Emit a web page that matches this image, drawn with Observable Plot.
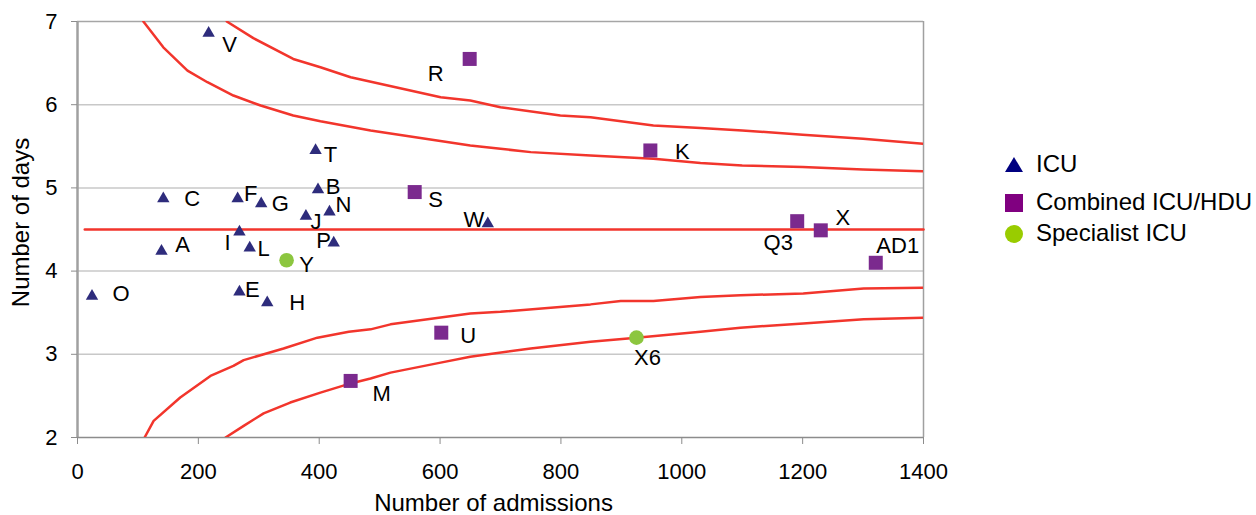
<!DOCTYPE html>
<html><head><meta charset="utf-8">
<script src="https://cdn.jsdelivr.net/npm/d3@7"></script>
<script src="https://cdn.jsdelivr.net/npm/@observablehq/plot@0.6"></script>
<style>
body{margin:0;background:#fff;font-family:"Liberation Sans",Arial,sans-serif;}
#wrap{position:relative;width:1256px;height:515px;overflow:hidden;}
.lg{position:absolute;font-size:24px;color:#000;line-height:1;white-space:nowrap;}
.lg svg{position:absolute;}
</style></head><body>
<div id="wrap"></div>
<script>
// ---- data ----
const icuNames      = ["V","C","F","G","A","I","L","J","T","B","N","P","W","O","E","H"];
const icuAdmissions = [217,142,265,304,139,268,285,378,394,398,417,424,679,24,268,314];
const icuDays       = [6.86,4.87,4.87,4.81,4.24,4.47,4.28,4.66,5.45,4.98,4.71,4.34,4.57,3.70,3.75,3.62];

const combNames      = ["R","K","S","U","M","Q3","X","AD1"];
const combAdmissions = [649,948,558,602,452,1191,1230,1321];
const combDays       = [6.55,5.45,4.95,3.26,2.68,4.60,4.49,4.10];

const specNames      = ["Y","X6"];
const specAdmissions = [346,925];
const specDays       = [4.13,3.20];

const meanDays = 4.5;
const meanAdmissions = [12,1400];

const upperOuterX = [247,291,357,402,452,601,650,700,799,849,953,1031,1100,1200,1300,1400];
const upperOuterY = [7.00,6.80,6.55,6.45,6.33,6.09,6.05,5.97,5.87,5.85,5.75,5.72,5.69,5.64,5.59,5.53];
const upperInnerX = [109,142,182,215,258,303,357,402,485,650,700,750,849,953,1031,1100,1200,1300,1400];
const upperInnerY = [7.00,6.69,6.41,6.27,6.11,5.99,5.87,5.80,5.69,5.51,5.47,5.43,5.39,5.35,5.30,5.27,5.25,5.22,5.20];
const lowerInnerX = [111,126,170,220,258,275,341,397,449,485,518,650,700,849,899,953,1031,1097,1201,1301,1400];
const lowerInnerY = [2.00,2.20,2.48,2.74,2.86,2.93,3.07,3.20,3.27,3.30,3.36,3.49,3.51,3.60,3.64,3.64,3.69,3.71,3.73,3.79,3.80];
const lowerOuterX = [245,275,308,352,402,452,485,518,601,650,750,849,925,1031,1097,1201,1301,1400];
const lowerOuterY = [2.00,2.14,2.29,2.42,2.54,2.65,2.71,2.78,2.90,2.97,3.07,3.15,3.20,3.27,3.32,3.37,3.42,3.44];

const xTicks = [0,200,400,600,800,1000,1200,1400];
const yTicks = [2,3,4,5,6,7];
const seriesNames = ["ICU","Combined ICU/HDU","Specialist ICU"];

// ---- layout (label offsets in px) ----
const labelOffset = {
  V:[21,12], C:[29,0], F:[13,-5], G:[19,0], J:[10,6], A:[21,-6], I:[-12,11], L:[14,1],
  T:[15,4], B:[15,-3], N:[14,-7], P:[-10,-2], W:[-14,-4], O:[29,-2], E:[13,-2], H:[30,0],
  R:[-34,15], K:[32,1], S:[21,8], U:[27,3], M:[31,13], Q3:[-19,22], X:[22,-12], AD1:[22,-17],
  Y:[20,5], X6:[11,20]
};

const zip = (n, a, d) => n.map((name, i) => ({name, adm: a[i], days: d[i]}));
const icu = zip(icuNames, icuAdmissions, icuDays);
const comb = zip(combNames, combAdmissions, combDays);
const spec = zip(specNames, specAdmissions, specDays);
const curve = (xs, ys) => xs.map((x, i) => ({adm: x, days: ys[i]}));

const red = "#f2352c";
const colIcu = "#2e2c7c", colComb = "#7b2a8e", colSpec = "#8cc63f";

const labelMarks = [...icu, ...comb, ...spec].map(d =>
  Plot.text([d], {x: "adm", y: "days", text: "name", dx: labelOffset[d.name][0], dy: labelOffset[d.name][1],
    fontSize: 22, fill: "#000", textAnchor: "middle"}));

const chart = Plot.plot({
  width: 1256, height: 515,
  marginLeft: 77, marginRight: 333, marginTop: 21, marginBottom: 78,
  x: {domain: [0, 1400]},
  y: {domain: [2, 7]},
  style: {fontFamily: "'Liberation Sans', Arial, sans-serif", background: "white", color: "#000"},
  marks: [
    Plot.ruleY([3,4,5,6], {stroke: "#c8c8c8", strokeWidth: 1.5}),
    Plot.ruleY([7], {stroke: "#a6a6a6", strokeWidth: 1.5}),
    Plot.ruleX([1400], {stroke: "#a0a0a0", strokeWidth: 1.5}),
    Plot.ruleX([0], {stroke: "#a0a0a0", strokeWidth: 2.5}),
    Plot.ruleY([2], {stroke: "#8c8c8c", strokeWidth: 1.5}),
    Plot.axisX({ticks: xTicks, tickSize: 7, tickPadding: 19, fontSize: 22, stroke: "#8c8c8c", fill: "#000", label: null, tickFormat: d => String(d)}),
    Plot.axisY({ticks: yTicks, tickSize: 6, tickPadding: 14, fontSize: 22, stroke: "#8c8c8c", fill: "#000", label: null, tickFormat: d => String(d)}),
    Plot.text(["Number of admissions"], {frameAnchor: "bottom", text: d => d, dx: -7, dy: 66, lineAnchor: "middle", textAnchor: "middle", fontSize: 24, fill: "#000"}),
    Plot.text(["Number of days"], {frameAnchor: "left", text: d => d, dx: -56, dy: -7, rotate: -90, textAnchor: "middle", lineAnchor: "middle", fontSize: 24, fill: "#000"}),
    Plot.line(curve(upperOuterX, upperOuterY), {x: "adm", y: "days", stroke: red, strokeWidth: 2.5, clip: true}),
    Plot.line(curve(upperInnerX, upperInnerY), {x: "adm", y: "days", stroke: red, strokeWidth: 2.5, clip: true}),
    Plot.line(curve(lowerInnerX, lowerInnerY), {x: "adm", y: "days", stroke: red, strokeWidth: 2.5, clip: true}),
    Plot.line(curve(lowerOuterX, lowerOuterY), {x: "adm", y: "days", stroke: red, strokeWidth: 2.5, clip: true}),
    Plot.line(meanAdmissions.map(a => ({adm: a, days: meanDays})), {x: "adm", y: "days", stroke: red, strokeWidth: 2.5}),
    Plot.dot(icu, {x: "adm", y: "days", symbol: "triangle", r: 4.6, fill: colIcu, stroke: "none"}),
    Plot.dot(comb, {x: "adm", y: "days", symbol: "square", r: 7.9, fill: colComb, stroke: "none"}),
    Plot.dot(spec, {x: "adm", y: "days", symbol: "circle", r: 7.3, fill: colSpec, stroke: "none"}),
    ...labelMarks
  ]
});
const wrap = document.getElementById("wrap");
wrap.appendChild(chart);

// legend
const legendRows = [
  {name: seriesNames[0], y: 165, shape: `<path d="M9,0 L18,15 L0,15 Z" fill="#000080"/>`, sy: -8},
  {name: seriesNames[1], y: 203, shape: `<rect x="0" y="0" width="18" height="18" fill="#800080"/>`, sy: -9},
  {name: seriesNames[2], y: 234, shape: `<circle cx="9" cy="9" r="9" fill="#99cc00"/>`, sy: -9}
];
legendRows.forEach(r => {
  const s = document.createElement("div");
  s.className = "lg";
  s.style.left = "1005px";
  s.style.top = (r.y + r.sy) + "px";
  s.innerHTML = `<svg width="18" height="18" style="left:0;top:0">${r.shape}</svg>`;
  wrap.appendChild(s);
  const t = document.createElement("div");
  t.className = "lg";
  t.style.left = "1036px";
  t.style.top = (r.y - 13) + "px";
  t.textContent = r.name;
  wrap.appendChild(t);
});
</script>
</body></html>
